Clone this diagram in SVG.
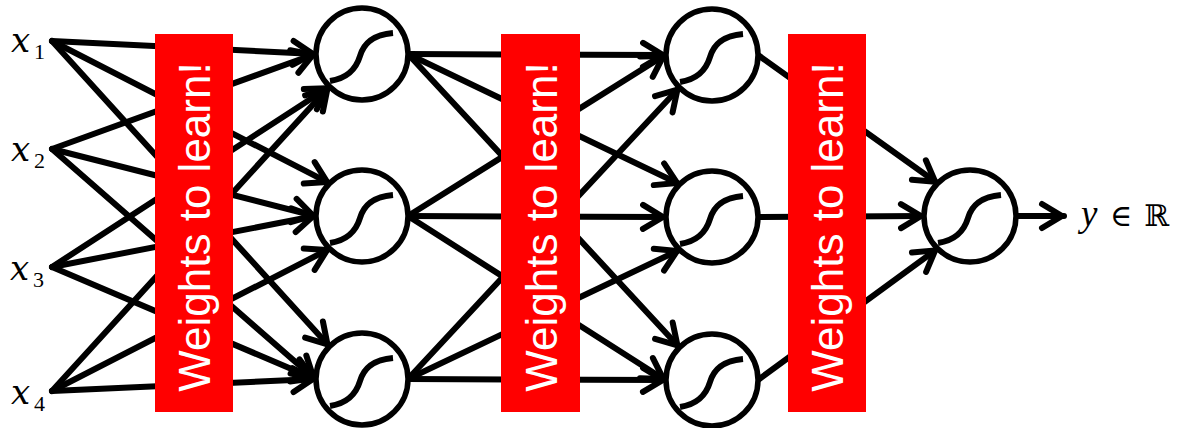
<svg xmlns="http://www.w3.org/2000/svg" width="1178" height="428" viewBox="0 0 1178 428">
<style>
.e{fill:none;stroke:#000;stroke-width:6;stroke-linecap:round;marker-end:url(#arr)}
.c{fill:#fff;stroke:#000;stroke-width:5.5}
.s{fill:none;stroke:#000;stroke-width:6}
.box{fill:#ff0000}
.wt{fill:#fff;font-family:"Liberation Sans",Arial,sans-serif;font-size:44px;text-anchor:middle}
.lx{font-family:"DejaVu Serif","Liberation Serif",serif;font-style:italic;font-size:34px;fill:#000}
.ly{font-family:"Liberation Serif","DejaVu Serif",serif;font-style:italic;font-size:37px;fill:#000}
.ls{font-family:"Liberation Serif","DejaVu Serif",serif;font-style:normal;font-size:22px;fill:#000}
.ms{font-family:"DejaVu Serif","Liberation Serif",serif;font-size:30px;fill:#000}
</style>
<defs>
<marker id="arr" markerUnits="userSpaceOnUse" markerWidth="40" markerHeight="40" viewBox="-30 -20 40 40" refX="0" refY="0" orient="auto" overflow="visible">
<path d="M-22,-12 L-2,0 L-22,12" fill="none" stroke="#000" stroke-width="6" stroke-linecap="round" stroke-linejoin="round"/>
</marker>
<path id="sig" d="M-32,27 C-12,24 -5,12 -2,2 C1,-8 8,-19 31,-21"/>
</defs>
<rect width="1178" height="428" fill="#fff"/>
<g id="connectors">
<line class="e" x1="52" y1="41" x2="315" y2="54"/>
<line class="e" x1="52" y1="149" x2="315" y2="54"/>
<line class="e" x1="52" y1="267" x2="328.8" y2="87.2"/>
<line class="e" x1="52" y1="391" x2="328.8" y2="87.2"/>
<line class="e" x1="52" y1="41" x2="328.8" y2="182.8"/>
<line class="e" x1="52" y1="149" x2="315" y2="216"/>
<line class="e" x1="52" y1="267" x2="315" y2="216"/>
<line class="e" x1="52" y1="391" x2="328.8" y2="249.2"/>
<line class="e" x1="52" y1="41" x2="328.8" y2="345.8"/>
<line class="e" x1="52" y1="149" x2="315" y2="379"/>
<line class="e" x1="52" y1="267" x2="315" y2="379"/>
<line class="e" x1="52" y1="391" x2="315" y2="379"/>
<line class="e" x1="408" y1="54" x2="665" y2="55"/>
<line class="e" x1="408" y1="54" x2="678.8" y2="183.8"/>
<line class="e" x1="408" y1="54" x2="678.8" y2="346.8"/>
<line class="e" x1="408" y1="216" x2="665" y2="55"/>
<line class="e" x1="408" y1="216" x2="665" y2="217"/>
<line class="e" x1="408" y1="216" x2="665" y2="380"/>
<line class="e" x1="408" y1="379" x2="678.8" y2="88.2"/>
<line class="e" x1="408" y1="379" x2="678.8" y2="250.2"/>
<line class="e" x1="408" y1="379" x2="665" y2="380"/>
<line class="e" x1="758" y1="55" x2="936.8" y2="182.8"/>
<line class="e" x1="758" y1="217" x2="923" y2="216"/>
<line class="e" x1="758" y1="380" x2="936.8" y2="249.2"/>
<line class="e" x1="1016" y1="216" x2="1064" y2="216"/>
</g>
<g id="weights1"><rect class="box" x="155" y="34" width="78" height="378"/><text class="wt" transform="translate(210,227) rotate(-90)">Weights to learn!</text></g>
<g id="weights2"><rect class="box" x="501" y="34" width="79" height="378"/><text class="wt" transform="translate(557,227) rotate(-90)">Weights to learn!</text></g>
<g id="weights3"><rect class="box" x="788" y="34" width="78" height="378"/><text class="wt" transform="translate(843,227) rotate(-90)">Weights to learn!</text></g>
<g id="h1a" transform="translate(362,54)"><circle class="c" r="46"/><use href="#sig" class="s"/></g>
<g id="h1b" transform="translate(362,216)"><circle class="c" r="46"/><use href="#sig" class="s"/></g>
<g id="h1c" transform="translate(362,379)"><circle class="c" r="46"/><use href="#sig" class="s"/></g>
<g id="h2a" transform="translate(712,55)"><circle class="c" r="46"/><use href="#sig" class="s"/></g>
<g id="h2b" transform="translate(712,217)"><circle class="c" r="46"/><use href="#sig" class="s"/></g>
<g id="h2c" transform="translate(712,380)"><circle class="c" r="46"/><use href="#sig" class="s"/></g>
<g id="out" transform="translate(970,216)"><circle class="c" r="46"/><use href="#sig" class="s"/></g>
<g id="x1"><text class="lx" x="11" y="52">x</text><text class="ls" x="34" y="59">1</text></g>
<g id="x2"><text class="lx" x="11" y="161">x</text><text class="ls" x="34" y="168">2</text></g>
<g id="x3"><text class="lx" x="10" y="280">x</text><text class="ls" x="33" y="287">3</text></g>
<g id="x4"><text class="lx" x="11" y="404">x</text><text class="ls" x="34" y="411">4</text></g>
<g id="y"><text class="ly" x="1081" y="226">y</text><text class="ms" x="1110" y="226">∈</text><text class="ms" x="1144" y="226">ℝ</text></g>
</svg>
